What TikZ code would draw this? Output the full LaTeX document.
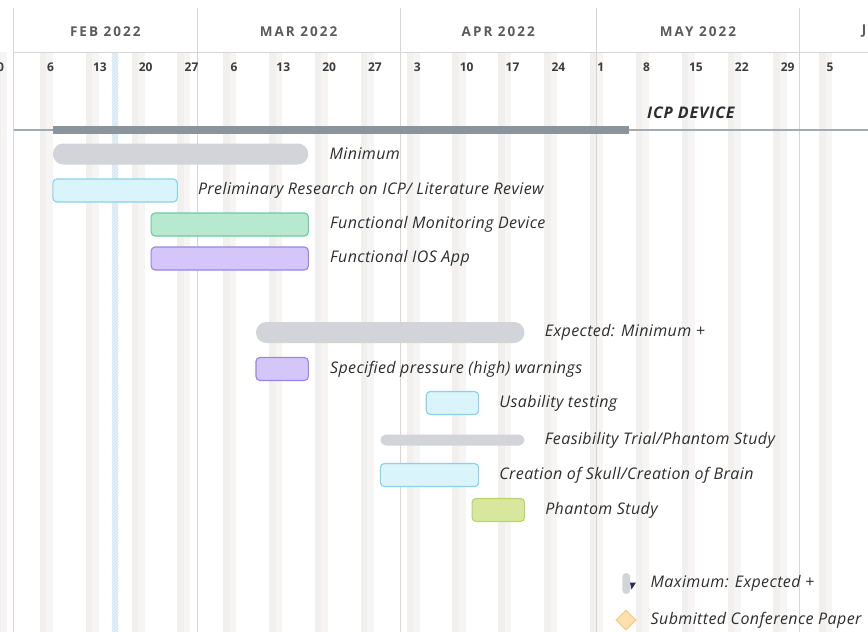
\documentclass[tikz,border=0pt]{standalone}
\usepackage{fontspec}
\setmainfont{Open Sans}
\newfontfamily\hdrfont[LetterSpace=15]{Open Sans}
\newfontfamily\taskfont[LetterSpace=2.5]{Open Sans}
\newfontfamily\projfont[LetterSpace=5]{Open Sans}
\usetikzlibrary{positioning,patterns,shapes.geometric}
\definecolor{gridline}{HTML}{D6D6D6}
\definecolor{satfill}{HTML}{F1F0EE}
\definecolor{sunfill}{HTML}{F6F5F3}
\definecolor{todayfill}{HTML}{E6F2F8}
\definecolor{todayhatch}{HTML}{CBE2EE}
\definecolor{monthtext}{HTML}{5B5B5B}
\definecolor{daytext}{HTML}{3C3C3C}
\definecolor{labeltext}{HTML}{2E2E2E}
\definecolor{icpgrey}{HTML}{8A949C}
\definecolor{icpline}{HTML}{A3AAB0}
\definecolor{pillgrey}{HTML}{D3D4D9}
\definecolor{bluefill}{HTML}{D9F4FB}
\definecolor{bluedraw}{HTML}{88D3E7}
\definecolor{greenfill}{HTML}{B6E9D0}
\definecolor{greendraw}{HTML}{6CCB9C}
\definecolor{purplefill}{HTML}{D4C6F8}
\definecolor{purpledraw}{HTML}{9A84EA}
\definecolor{limefill}{HTML}{D7E89E}
\definecolor{limedraw}{HTML}{B8D36B}
\definecolor{paperfill}{HTML}{FDE0AE}
\definecolor{paperdraw}{HTML}{F4C982}
\definecolor{flagnavy}{HTML}{2B2D4F}
\begin{document}
\begin{tikzpicture}[x=1pt,y=-1pt,
	monthline/.style={gridline,line width=0.9pt},
	monthlabel/.style={inner sep=0,text=monthtext,font=\hdrfont\bfseries\fontsize{13.5}{15}\selectfont},
	daylabel/.style={inner sep=0,anchor=west,text=daytext,font=\bfseries\fontsize{12}{14}\selectfont},
	tasklabel/.style={inner sep=0,anchor=west,text=labeltext,font=\taskfont\itshape\fontsize{16}{18}\selectfont},
	task/.style={draw=#1draw,fill=#1fill,line width=1.1pt,rounded corners=4pt,
		minimum height=23pt,inner sep=0},
	pill/.style={fill=pillgrey,rounded corners=#1,minimum height=2*#1,inner sep=0}]
\useasboundingbox (0,0) rectangle (868,632);
\clip (0,0) rectangle (868,632);
\fill[white] (0,0) rectangle (868,632);
% weekends and today
\foreach \k in {-1,...,17}{
	\fill[satfill] ({13.6+6.55*(4+7*\k)},52) rectangle +(6.55,580);
	\fill[sunfill] ({13.6+6.55*(5+7*\k)},52) rectangle +(6.55,580);
}
\fill[todayfill] (111.85,52) rectangle (118.4,632);
\fill[pattern=north east lines,pattern color=todayhatch] (111.85,52) rectangle (118.4,632);
% months
\foreach \x in {13.6,197,400.05,596.55,799.6}
	\draw[monthline] (\x,8) -- (\x,632);
\draw[monthline] (13.6,52) -- (868,52);
\foreach \x/\m [count=\i] in {105.3/FEB,298.5/MAR,498.3/APR,698/MAY,898/JUN}
	\node[monthlabel] (month\i) at (\x,31.5) {\m{} 2022};
\node[daylabel] (day0) at (-10,67) {30};
\foreach \d/\n [count=\i] in {5/6,12/13,19/20,26/27,33/6,40/13,47/20,54/27,61/3,68/10,
		75/17,82/24,89/1,96/8,103/15,110/22,117/29,124/5}
	\node[daylabel] (day\i) at ({13.6+6.55*\d+0.6},67) {\n};
% project row
\draw[icpline,line width=2.4pt] (13.6,130) -- (868,130);
\node[fill=icpgrey,minimum width=576.4pt,minimum height=7.6pt,inner sep=0] (icp) at (341.1,130) {};
\node[tasklabel,font=\projfont\bfseries\itshape\fontsize{16}{18}\selectfont] (icptxt) at (647,113) {ICP DEVICE};
% tasks
\node[pill=10.5pt,minimum width=255.4pt] (minimum) at (180.6,154) {};
\node[tasklabel,right=21pt of minimum] (minimumtxt) {Minimum};
\node[task=blue,minimum width=124.4pt] (prelim) at (115.1,190.5) {};
\node[tasklabel,right=20pt of prelim] (prelimtxt) {Preliminary Research on ICP/ Literature Review};
\node[task=green,minimum width=157.2pt] (device) at (229.75,224.5) {};
\node[tasklabel,right=21pt of device] (devicetxt) {Functional Monitoring Device};
\node[task=purple,minimum width=157.2pt] (app) at (229.75,258.5) {};
\node[tasklabel,right=21pt of app] (apptxt) {Functional IOS App};
\node[pill=10.5pt,minimum width=268.5pt] (expected) at (390.2,332.5) {};
\node[tasklabel,right=20pt of expected] (expectedtxt) {Expected: Minimum +};
\node[task=purple,minimum width=52.4pt] (warn) at (282.15,369) {};
\node[tasklabel,right=21pt of warn] (warntxt) {Specified pressure (high) warnings};
\node[task=blue,minimum width=52.4pt] (usab) at (452.45,403) {};
\node[tasklabel,right=20pt of usab] (usabtxt) {Usability testing};
\node[pill=5.5pt,minimum width=144.1pt] (feas) at (452.45,440) {};
\node[tasklabel,right=20pt of feas] (feastxt) {Feasibility Trial/Phantom Study};
\node[task=blue,minimum width=98.2pt] (skull) at (429.5,475) {};
\node[tasklabel,right=20pt of skull] (skulltxt) {Creation of Skull/Creation of Brain};
\node[task=lime,minimum width=52.4pt] (phantom) at (498.3,510) {};
\node[tasklabel,right=20pt of phantom] (phantomtxt) {Phantom Study};
% milestones
\node[pill=4pt,minimum height=21pt,minimum width=8pt] (maximum) at (626.3,583.5) {};
\fill[flagnavy] (630,582.5) -- (636,582.5) -- (631.5,589.5) -- cycle;
\node[tasklabel,right=20pt of maximum] (maximumtxt) {Maximum: Expected +};
\node[diamond,draw=paperdraw,fill=paperfill,line width=1pt,minimum size=20pt,inner sep=0] (paper) at (626,620) {};
\node[tasklabel,right=14pt of paper] (papertxt) {Submitted Conference Paper};
\end{tikzpicture}
\end{document}
